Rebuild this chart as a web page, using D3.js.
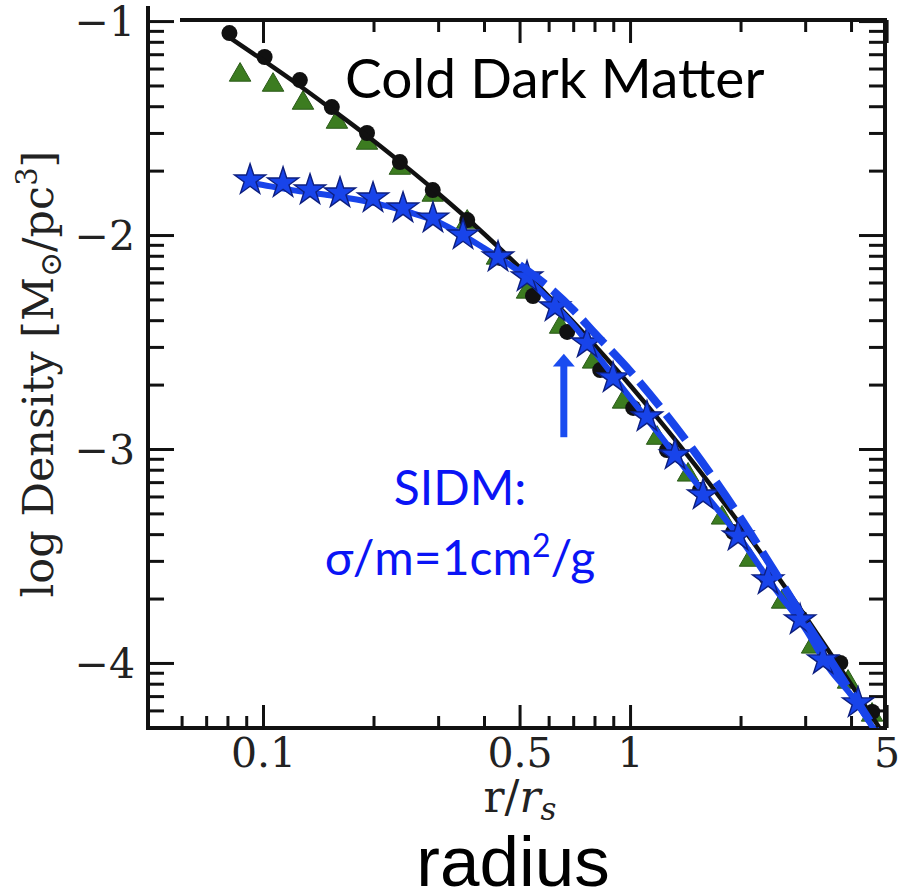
<!DOCTYPE html>
<html>
<head>
<meta charset="utf-8">
<script src="https://cdn.jsdelivr.net/npm/d3@7"></script>
<style>
  html, body { margin: 0; padding: 0; background: #ffffff; }
  svg { display: block; }
</style>
</head>
<body>
<svg id="chart" width="898" height="894"></svg>
<script>
// ---- Halo density profiles: log density vs r/r_s ----

// CDM simulation (black circles)
const cdmRadius  = [0.081, 0.101, 0.126, 0.154, 0.192, 0.236, 0.290, 0.360, 0.442, 0.544,
                    0.674, 0.829, 1.02, 1.26, 1.55, 1.91, 2.36, 2.91, 3.74, 4.57];
const cdmDensity = [-1.056, -1.168, -1.276, -1.402, -1.523, -1.659, -1.790, -1.930, -2.107, -2.285,
                    -2.453, -2.631, -2.808, -3.005, -3.192, -3.388, -3.603, -3.790, -4.000, -4.229];

// second CDM run (green triangles)
const triRadius  = [0.0866, 0.1065, 0.1285, 0.159, 0.192, 0.236, 0.290, 0.360, 0.434, 0.524, 0.645,
                    0.793, 0.957, 1.185, 1.439, 1.781, 2.123, 2.596, 3.133, 3.926, 4.565];
const triDensity = [-1.252, -1.299, -1.383, -1.472, -1.570, -1.687, -1.813, -1.939, -2.107, -2.266, -2.430,
                    -2.593, -2.780, -2.949, -3.121, -3.322, -3.519, -3.715, -3.925, -4.089, -4.243];

// SIDM sigma/m = 1 cm^2/g (blue stars)
const sidmRadius  = [0.0922, 0.1134, 0.1343, 0.1621, 0.1994, 0.2407, 0.2904, 0.3507, 0.4368, 0.524, 0.6246,
                     0.7636, 0.899, 1.112, 1.326, 1.581, 1.969, 2.377, 2.906, 3.357, 4.181];
const sidmDensity = [-1.743, -1.757, -1.790, -1.804, -1.827, -1.874, -1.921, -2.000, -2.103, -2.196, -2.336,
                     -2.505, -2.668, -2.850, -3.028, -3.215, -3.407, -3.612, -3.799, -3.986, -4.187];

// CDM fit curve (black solid)
const cdmFitRadius  = [0.08, 0.1, 0.125, 0.15, 0.2, 0.25, 0.3, 0.4, 0.5, 0.6, 0.7, 0.8,
                       1, 1.25, 1.5, 2, 2.5, 3, 3.5, 4, 4.5, 5];
const cdmFitDensity = [-1.070, -1.183, -1.299, -1.398, -1.559, -1.692, -1.805, -1.994, -2.151, -2.286, -2.406, -2.514,
                       -2.702, -2.901, -3.072, -3.355, -3.586, -3.781, -3.951, -4.100, -4.234, -4.355];

// SIDM cored fit (blue solid)
const sidmFitRadius  = [0.09, 0.1, 0.12, 0.15, 0.2, 0.25, 0.3, 0.35, 0.4, 0.45, 0.5, 0.6, 0.7, 0.8,
                        1, 1.25, 1.5, 2, 2.5, 3, 3.5, 4, 4.5, 5];
const sidmFitDensity = [-1.752, -1.766, -1.790, -1.813, -1.850, -1.893, -1.939, -2.000, -2.061, -2.117, -2.172, -2.300, -2.420, -2.545,
                        -2.760, -2.970, -3.150, -3.420, -3.660, -3.840, -4.030, -4.150, -4.280, -4.400];

// SIDM outer fit (blue dashed)
const sidmOuterRadius  = [0.5, 0.6, 0.7, 0.8, 1, 1.25, 1.5, 2, 2.5, 3, 3.5, 4, 4.5, 5];
const sidmOuterDensity = [-2.140, -2.243, -2.350, -2.458, -2.636, -2.836, -3.014, -3.322, -3.584, -3.804, -3.981, -4.136, -4.271, -4.390];

// axis ticks
const xMajorTicks  = [0.1, 0.5, 1, 5];
const xMajorLabels = ["0.1", "0.5", "1", "5"];
const xMinorTicks  = [0.06, 0.07, 0.08, 0.09, 0.2, 0.3, 0.4, 0.6, 0.7, 0.8, 0.9, 2, 3, 4];
const yMajorTicks  = [-1, -2, -3, -4];
const yMajorLabels = ["\u22121", "\u22122", "\u22123", "\u22124"];
const yMinorFactors = [2, 3, 4, 5, 6, 7, 8, 9];

// ---- layout ----
const plot = { left: 148, right: 885, top: 20, bottom: 728 };
const svg = d3.select("#chart");

const x = d3.scaleLog().domain([0.0486, 4.95]).range([plot.left, plot.right]);
const y = d3.scaleLinear().domain([-0.995, -4.304]).range([plot.top, plot.bottom]);

const yMinorTicks = [];
[-2, -3, -4, -5].forEach(d => yMinorFactors.forEach(k => {
  const v = d + Math.log10(k);
  if (v <= y.domain()[0] && v >= y.domain()[1]) yMinorTicks.push(v);
}));

const serif = "'DejaVu Serif', serif";
const ink = "#111";
const blue = "#1844ea";
const green = "#3c7c20";

// ---- axes (ticks point inward on all four sides) ----
function styleAxis(g, width) {
  g.select(".domain").remove();
  g.selectAll(".tick line").attr("stroke", ink).attr("stroke-width", width);
}

// bottom
svg.append("g").attr("transform", `translate(0,${plot.bottom})`)
  .call(d3.axisBottom(x).tickValues(xMinorTicks).tickSize(-12).tickFormat(""))
  .call(g => styleAxis(g, 3));
svg.append("g").attr("transform", `translate(0,${plot.bottom})`)
  .call(d3.axisBottom(x).tickValues(xMajorTicks).tickSize(-23).tickPadding(10)
        .tickFormat((d, i) => xMajorLabels[i]))
  .call(g => styleAxis(g, 3))
  .call(g => g.selectAll("text").attr("font-family", serif).attr("font-size", 41).attr("fill", "#222"));

// top
svg.append("g").attr("transform", `translate(0,${plot.top})`)
  .call(d3.axisTop(x).tickValues(xMinorTicks.filter(v => v > 0.095)).tickSize(-12).tickFormat(""))
  .call(g => styleAxis(g, 3));
svg.append("g").attr("transform", `translate(0,${plot.top})`)
  .call(d3.axisTop(x).tickValues(xMajorTicks).tickSize(-23).tickFormat(""))
  .call(g => styleAxis(g, 3));

// left
svg.append("g").attr("transform", `translate(${plot.left},0)`)
  .call(d3.axisLeft(y).tickValues(yMinorTicks).tickSize(-16).tickFormat(""))
  .call(g => styleAxis(g, 3));
svg.append("g").attr("transform", `translate(${plot.left},0)`)
  .call(d3.axisLeft(y).tickValues(yMajorTicks).tickSize(-26).tickPadding(13)
        .tickFormat((d, i) => yMajorLabels[i]))
  .call(g => styleAxis(g, 3))
  .call(g => g.selectAll("text").attr("font-family", serif).attr("font-size", 41)
        .attr("fill", "#222").attr("dy", "0.36em"));

// right
svg.append("g").attr("transform", `translate(${plot.right},0)`)
  .call(d3.axisRight(y).tickValues(yMinorTicks).tickSize(-16).tickFormat(""))
  .call(g => styleAxis(g, 3));
svg.append("g").attr("transform", `translate(${plot.right},0)`)
  .call(d3.axisRight(y).tickValues(yMajorTicks).tickSize(-26).tickFormat(""))
  .call(g => styleAxis(g, 3));

// frame
const frame = svg.append("g").attr("stroke", ink).attr("stroke-width", 4).attr("stroke-linecap", "square");
frame.append("line").attr("x1", plot.left).attr("x2", plot.left).attr("y1", 8).attr("y2", plot.bottom);
frame.append("line").attr("x1", plot.left).attr("x2", plot.right).attr("y1", plot.bottom).attr("y2", plot.bottom);
frame.append("line").attr("x1", 182).attr("x2", plot.right).attr("y1", plot.top).attr("y2", plot.top);
frame.append("line").attr("x1", plot.right).attr("x2", plot.right).attr("y1", plot.top).attr("y2", plot.bottom);

// ---- clip for curves ----
svg.append("defs").append("clipPath").attr("id", "plotClip")
  .append("rect").attr("x", plot.left).attr("y", plot.top)
  .attr("width", plot.right - plot.left).attr("height", plot.bottom - plot.top);

const layer = svg.append("g").attr("clip-path", "url(#plotClip)");
const zip = (rs, vs) => rs.map((r, i) => ({ r, v: vs[i] }));
const line = d3.line().x(d => x(d.r)).y(d => y(d.v)).curve(d3.curveMonotoneX);

// green triangles
layer.append("g").selectAll("path").data(zip(triRadius, triDensity)).join("path")
  .attr("transform", d => `translate(${x(d.r)},${y(d.v)})`)
  .attr("d", d3.symbol(d3.symbolTriangle, 200))
  .attr("fill", green).attr("stroke", "#2a5a18").attr("stroke-width", 1);

// black circles
layer.append("g").selectAll("circle").data(zip(cdmRadius, cdmDensity)).join("circle")
  .attr("cx", d => x(d.r)).attr("cy", d => y(d.v)).attr("r", 8).attr("fill", ink);

// CDM fit
layer.append("path").datum(zip(cdmFitRadius, cdmFitDensity))
  .attr("d", line).attr("fill", "none").attr("stroke", ink).attr("stroke-width", 4.5);

// SIDM cored fit
layer.append("path").datum(zip(sidmFitRadius, sidmFitDensity))
  .attr("d", line).attr("fill", "none").attr("stroke", blue).attr("stroke-width", 6);

// blue stars
layer.append("g").selectAll("path").data(zip(sidmRadius, sidmDensity)).join("path")
  .attr("transform", d => `translate(${x(d.r)},${y(d.v)})`)
  .attr("d", d3.symbol(d3.symbolStar, 300))
  .attr("fill", blue).attr("stroke", "#0d1f80").attr("stroke-width", 1.4);

// SIDM outer fit (dashed)
layer.append("path").datum(zip(sidmOuterRadius, sidmOuterDensity))
  .attr("d", line).attr("fill", "none").attr("stroke", blue).attr("stroke-width", 8)
  .attr("stroke-dasharray", "32,10");

// arrow marking where the profiles separate
const arrowR = 0.66;
const ax = x(arrowR);
svg.append("line").attr("x1", ax).attr("x2", ax).attr("y1", y(-2.945)).attr("y2", y(-2.60))
  .attr("stroke", "#1a4cf0").attr("stroke-width", 7);
svg.append("path")
  .attr("d", `M${ax},${y(-2.555)} L${ax - 11},${y(-2.615)} L${ax + 11},${y(-2.615)} Z`)
  .attr("fill", "#1a4cf0");

// ---- titles ----
svg.append("text")
  .attr("transform", `translate(53,374) rotate(-90)`)
  .attr("text-anchor", "middle").attr("font-family", serif).attr("font-size", 43).attr("fill", "#222")
  .call(t => {
    t.append("tspan").text("log Density [M");
    t.append("tspan").attr("font-size", 30).attr("dy", 8).text("\u2299");
    t.append("tspan").attr("dy", -8).text("/pc");
    t.append("tspan").attr("font-size", 29).attr("dy", -16).text("3");
    t.append("tspan").attr("dy", 16).text("]");
  });

svg.append("text")
  .attr("x", 520).attr("y", 812).attr("text-anchor", "middle")
  .attr("font-family", serif).attr("font-size", 44).attr("fill", "#222")
  .call(t => {
    t.append("tspan").text("r/");
    t.append("tspan").attr("font-style", "italic").text("r");
    t.append("tspan").attr("font-style", "italic").attr("font-size", 31).attr("dy", 8).text("s");
  });

svg.append("text")
  .attr("x", 513).attr("y", 886).attr("text-anchor", "middle")
  .attr("font-family", "'Liberation Sans', Arial, sans-serif").attr("font-size", 71).attr("fill", "#000")
  .text("radius");

svg.append("text")
  .attr("x", 345).attr("y", 98)
  .attr("font-family", "Lato, sans-serif").attr("font-size", 55).attr("fill", "#000")
  .text("Cold Dark Matter");

const sidmLabel = svg.append("g").attr("font-family", "Lato, sans-serif").attr("fill", "#0a14f5")
  .attr("text-anchor", "middle");
sidmLabel.append("text").attr("x", 460).attr("y", 505).attr("font-size", 48).text("SIDM:");
sidmLabel.append("text").attr("x", 460).attr("y", 575).attr("font-size", 48)
  .call(t => {
    t.append("tspan").text("\u03c3/m=1cm");
    t.append("tspan").attr("font-size", 32).attr("dy", -18).text("2");
    t.append("tspan").attr("dy", 18).text("/g");
  });
</script>
</body>
</html>
